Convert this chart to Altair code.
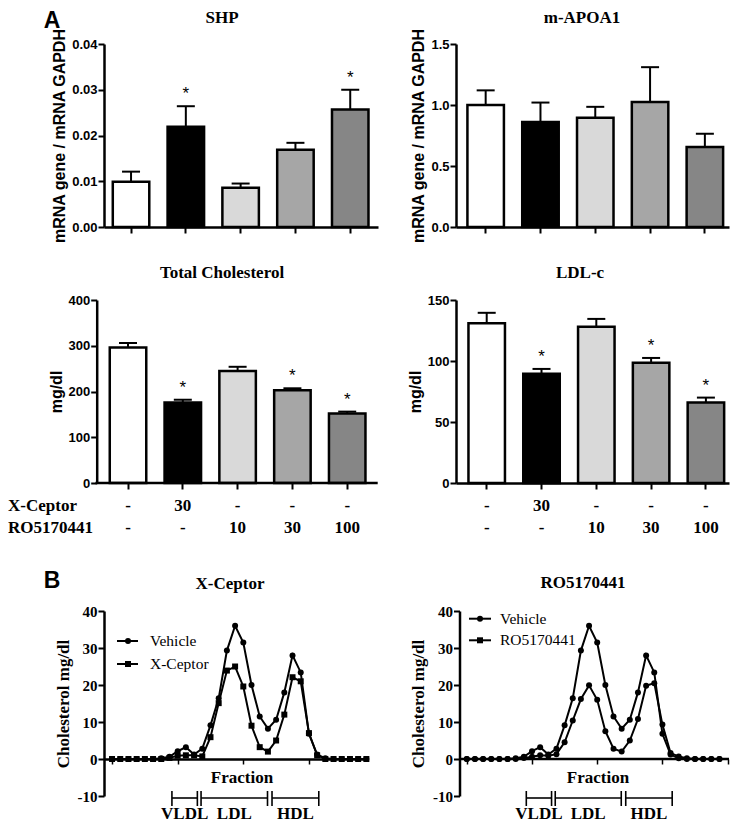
import altair as alt
import pandas as pd

# ---------------- data ----------------
groups = ["Vehicle", "X-Ceptor 30", "RO5170441 10", "RO5170441 30", "RO5170441 100"]
bar_colors = ["#ffffff", "#000000", "#d9d9d9", "#a6a6a6", "#868686"]
treatments = ["X-Ceptor", "RO5170441"]
xceptor_dose = ["-", "30", "-", "-", "-"]
ro_dose = ["-", "-", "10", "30", "100"]

shp_mean = [0.0099, 0.0219, 0.0086, 0.0169, 0.0257]
shp_upper = [0.0121, 0.0264, 0.0095, 0.0184, 0.0300]
shp_star = ["", "*", "", "", "*"]

apoa1_mean = [1.00, 0.86, 0.895, 1.025, 0.655]
apoa1_upper = [1.12, 1.02, 0.985, 1.31, 0.765]
apoa1_star = ["", "", "", "", ""]

tc_mean = [296, 176, 245, 203, 152]
tc_upper = [306, 182, 254, 207, 156]
tc_star = ["", "*", "", "*", "*"]

ldl_mean = [131, 89.5, 128, 98.5, 66]
ldl_upper = [139.5, 93.5, 134.5, 102.5, 70]
ldl_star = ["", "*", "", "*", "*"]

fractions = list(range(1, 33))
vehicle_chol = [0, 0, 0, 0, 0, 0, 0.2, 0.6, 2.1, 3.2, 1.2, 2.8, 9.1, 16.4, 29.3, 36.0,
                31.5, 20.0, 11.5, 8.2, 10.6, 18.0, 28.0, 23.4, 6.8, 1.2, 0.2, 0, 0, 0, 0, 0]
xceptor_chol = [0, 0, 0, 0, 0, 0, 0, 0.3, 0.9, 1.0, 1.0, 0.7, 5.9, 15.1, 23.9, 25.0,
                19.6, 9.0, 3.2, 2.0, 5.0, 12.0, 22.1, 21.0, 7.0, 1.0, 0, 0, 0, 0, 0, 0]
ro_chol = [0, 0, 0, 0, 0, 0, 0, 0.3, 0.6, 1.0, 0.9, 1.3, 4.5, 10.4, 16.2, 19.9,
           16.0, 7.5, 2.8, 2.0, 5.0, 10.8, 19.8, 20.5, 9.3, 1.6, 0.7, 0.2, 0, 0, 0, 0]
chol_ticks = [-10, 0, 10, 20, 30, 40]

lipo_names = ["VLDL", "LDL", "HDL"]
lipo_start = [8.3, 11.85, 20.5]
lipo_end = [11.4, 19.95, 26.2]

# ---------------- style ----------------
SANS = "Liberation Sans"
SERIF = "Liberation Serif"
STEP = 54.8
PI = 0.334
BAR_H = 183
LINE_H = 185
TITLE_FS = 17
AX = dict(domainColor="black", tickColor="black", labelColor="black", titleColor="black", grid=False)


def one(text):
    return pd.DataFrame({"t": [text]})


def text_mark(text, x, y, font, size, weight="bold", align="center", baseline="alphabetic"):
    return alt.Chart(one(text)).mark_text(
        font=font, fontSize=size, fontWeight=weight, align=align, baseline=baseline, color="black"
    ).encode(text="t:N", x=alt.value(x), y=alt.value(y))


def anchor(x1, x2, y1, y2):
    return alt.Chart(one("")).mark_rect(opacity=0).encode(
        x=alt.value(x1), x2=alt.value(x2), y=alt.value(y1), y2=alt.value(y2))


def baseline_rule(x1, x2, y):
    return alt.Chart(one("")).mark_rule(color="black", strokeWidth=2.5).encode(
        x=alt.value(x1), x2=alt.value(x2), y=alt.value(y))


def bar_panel(title, mean, upper, star, ymax, yticks, yfmt, ytitle, w, align, tx, ty, box,
              yoff=0, doses=False, row_labels=False, letter=None):
    df = pd.DataFrame({"grp": groups, "mean": mean, "upper": upper, "star": star,
                       "color": bar_colors, "xc": xceptor_dose, "ro": ro_dose})
    po = (w / STEP - (5 - PI)) / 2
    xs = alt.Scale(domain=groups, paddingInner=PI, paddingOuter=po, align=align)
    ys = alt.Scale(domain=[0, ymax], nice=False, zero=True)
    x_axis = alt.Axis(labels=False, title=None, tickSize=6, tickWidth=2, domainWidth=2.5,
                      domain=(yoff == 0), **AX)
    y_axis = alt.Axis(values=yticks, format=yfmt, title=ytitle, titleFont=SANS, titleFontSize=16,
                      titleFontWeight="bold", titlePadding=4, labelFont=SANS, labelFontSize=13,
                      labelFontWeight="bold", labelPadding=1, tickSize=6, tickWidth=2,
                      labelOverlap=False, domainWidth=2.5, offset=yoff, **AX)
    x = alt.X("grp:N", scale=xs, sort=groups, axis=x_axis)
    xb = alt.X("grp:N", scale=xs, sort=groups)
    base = alt.Chart(df)
    layers = [
        anchor(*box),
        base.mark_bar(stroke="black", strokeWidth=2.5).encode(
            x=x, y=alt.Y("mean:Q", scale=ys, axis=y_axis), fill=alt.Fill("color:N", scale=None)),
        base.mark_rule(color="black", strokeWidth=2).encode(
            x=xb, y=alt.Y("mean:Q", scale=ys), y2="upper:Q"),
        base.mark_tick(color="black", size=18, thickness=2, opacity=1).encode(
            x=xb, y=alt.Y("upper:Q", scale=ys)),
        base.mark_text(font=SANS, fontSize=17, color="black", dy=-7, baseline="alphabetic").encode(
            x=xb, y=alt.Y("upper:Q", scale=ys), text="star:N"),
        text_mark(title, tx, ty, SERIF, TITLE_FS),
    ]
    if yoff != 0:
        layers.append(baseline_rule(-yoff - 1.25, w, BAR_H))
    if doses:
        for col, yy in (("xc", 206), ("ro", 228)):
            layers.append(base.mark_text(font=SERIF, fontSize=17, fontWeight="bold", color="black",
                                         baseline="middle").encode(x=xb, y=alt.value(yy), text=f"{col}:N"))
    if row_labels:
        for name, yy in zip(treatments, (206, 228)):
            layers.append(text_mark(name, box[0], yy, SERIF, 17, align="left", baseline="middle"))
    if letter:
        layers.append(text_mark(letter, -52, -16.5, SANS, 23))
    return alt.layer(*layers).properties(width=w, height=BAR_H)


def line_panel(title, treat_name, treat_vals, w, dom, nticks, tx, ty, box, leg, frac_x,
               yoff=0, letter=None):
    df = pd.DataFrame({"frac": fractions + fractions,
                       "chol": vehicle_chol + treat_vals,
                       "series": ["Vehicle"] * len(fractions) + [treat_name] * len(fractions)})
    xs = alt.Scale(domain=dom, nice=False, zero=False)
    ys = alt.Scale(domain=[-10, 40], nice=False)
    zero_px = LINE_H * 0.8
    x_axis = alt.Axis(values=list(range(1, nticks + 1)), labels=False, title=None,
                      offset=zero_px - LINE_H, tickSize=5, tickWidth=1.5, domainWidth=2.5,
                      domain=(yoff == 0), **AX)
    y_axis = alt.Axis(values=chol_ticks, tickCount=len(chol_ticks),
                      labelExpr="replace(datum.label, '\u2212', '-')",
                      title="Cholesterol mg/dl", titleFont=SERIF, titleFontSize=17,
                      titleFontWeight="bold", titlePadding=5, labelFont=SERIF, labelFontSize=15,
                      labelFontWeight="bold", labelPadding=1, tickSize=6, tickWidth=2,
                      labelOverlap=False, labelBound=False, labelFlush=False, offset=yoff,
                      domainWidth=2.5, **AX)
    base = alt.Chart(df)
    xb = alt.X("frac:Q", scale=xs, axis=x_axis)
    yb = alt.Y("chol:Q", scale=ys, axis=y_axis)
    bdf = pd.DataFrame({"name": lipo_names, "start": lipo_start, "end": lipo_end})
    bb = alt.Chart(bdf)
    layers = [
        anchor(*box),
        base.mark_line(color="black", strokeWidth=2).encode(x=xb, y=yb, detail="series:N"),
        base.mark_point(filled=True, color="black", opacity=1, size=36).encode(
            x=xb, y=yb,
            shape=alt.Shape("series:N", scale=alt.Scale(domain=["Vehicle", treat_name],
                                                       range=["circle", "square"]), legend=None)),
        bb.mark_rule(color="black", strokeWidth=1.6).encode(
            x=alt.X("start:Q", scale=xs), x2="end:Q", y=alt.value(187)),
        bb.mark_rule(color="black", strokeWidth=1.6).encode(
            x=alt.X("start:Q", scale=xs), y=alt.value(180), y2=alt.value(195)),
        bb.mark_rule(color="black", strokeWidth=1.6).encode(
            x=alt.X("end:Q", scale=xs), y=alt.value(180), y2=alt.value(195)),
        bb.transform_calculate(mid="(datum.start + datum.end) / 2").mark_text(
            font=SERIF, fontSize=17, fontWeight="bold", color="black", baseline="middle").encode(
            x=alt.X("mid:Q", scale=xs), y=alt.value(203), text="name:N"),
        text_mark("Fraction", frac_x, 167, SERIF, 17, baseline="middle"),
        text_mark(title, tx, ty, SERIF, TITLE_FS),
    ]
    if yoff != 0:
        layers.append(baseline_rule(-yoff, w, zero_px))
    lx1, lx2, lm, ltx, ly1, ly2 = leg
    for name, shp, yy in (("Vehicle", "circle", ly1), (treat_name, "square", ly2)):
        d = alt.Chart(one(name))
        layers.append(d.mark_rule(color="black", strokeWidth=2).encode(
            x=alt.value(lx1), x2=alt.value(lx2), y=alt.value(yy)))
        layers.append(d.mark_point(filled=True, color="black", opacity=1, size=36, shape=shp).encode(
            x=alt.value(lm), y=alt.value(yy)))
        layers.append(text_mark(name, ltx, yy, SERIF, 15.5, weight="normal", align="left",
                                baseline="middle"))
    if letter:
        layers.append(text_mark(letter, -52, -23, SANS, 23))
    return alt.layer(*layers).properties(width=w, height=LINE_H)


# left column plot origin: x=104 ; right column: x=456 (grid aligns origins per column)
p1 = bar_panel("SHP", shp_mean, shp_upper, shp_star, 0.04, [0, 0.01, 0.02, 0.03, 0.04], ".2f",
               "mRNA gene / mRNA GAPDH", 274, 0.48, 118, -21.4, (-96, 296, -35, 207), letter="A")
p2 = bar_panel("m-APOA1", apoa1_mean, apoa1_upper, apoa1_star, 1.5, [0, 0.5, 1.0, 1.5], ".1f",
               "mRNA gene / mRNA GAPDH", 273, 0.66, 126, -21.4, (-56, 275, -35, 207))
p3 = bar_panel("Total Cholesterol", tc_mean, tc_upper, tc_star, 400, [0, 100, 200, 300, 400], "d",
               "mg/dl", 273.7, 0.32, 118, -21.7, (-96, 296, -49, 249), yoff=7.3,
               doses=True, row_labels=True)
p4 = bar_panel("LDL-c", ldl_mean, ldl_upper, ldl_star, 150, [0, 50, 100, 150], "d",
               "mg/dl", 273, 0.72, 124, -21.7, (-56, 275, -49, 249), doses=True)
p5 = line_panel("X-Ceptor", "X-Ceptor", xceptor_chol, 264, [0.02, 32.2], 32, 126, -22,
                (-96, 296, -62, 211), (13, 34, 24, 46, 30, 53), 138, letter="B")
p6 = line_panel("RO5170441", "RO5170441", ro_chol, 273, [-0.325, 33.17], 33, 127, -23,
                (-56, 275, -62, 211), (13, 35, 24, 44, 7.7, 29.3), 142, yoff=-3.5)

chart = alt.concat(p1, p2, p3, p4, p5, p6, columns=2, spacing=0, align="each", bounds="full").properties(
    padding={"left": 0, "right": 0, "top": 0, "bottom": 0}
).configure_view(stroke=None).configure_axis(grid=False)

chart.save("out.html", embed_options={"renderer": "svg", "actions": False})
